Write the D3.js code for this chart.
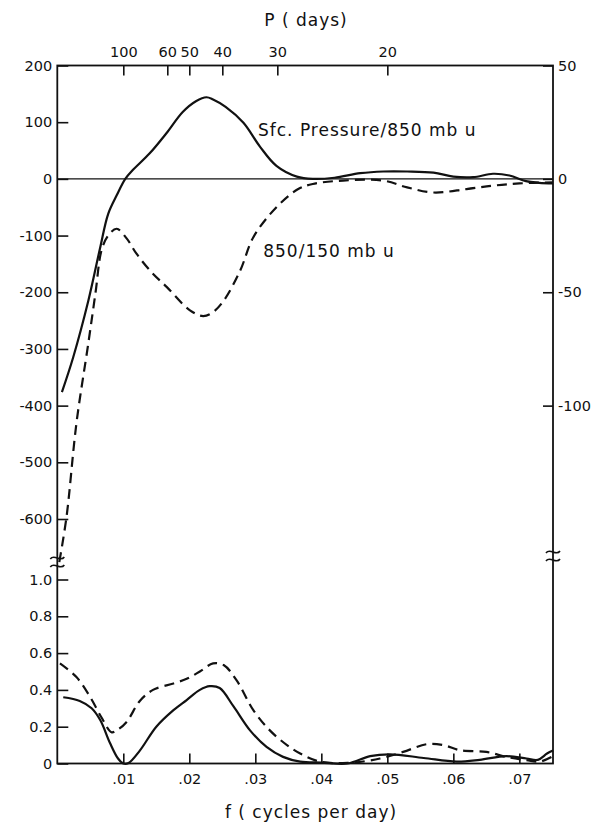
<!DOCTYPE html>
<html>
<head>
<meta charset="utf-8">
<script src="https://d3js.org/d3.v7.min.js"></script>
<style>
  body { margin: 0; background: #fff; }
  text { font-family: "DejaVu Sans", sans-serif; fill: #111; }
</style>
</head>
<body>
<div class="root"></div>
<script>
// frequency in cycles per day
const sfcFreq = [.0007, .0024, .0047, .0065, .0077, .009, .0103, .0114, .014, .0165, .019, .021, .0226, .0236, .0255, .0282, .0307, .0332, .0363, .0387, .042, .0459, .0494, .053, .057, .06, .063, .066, .0685, .071, .073, .0751]
const sfcCoh = [-376, -315, -215, -121, -62, -29, 0, 15, 45, 80, 118, 137, 144, 140, 127, 99, 57, 23, 4, 0, 2, 10, 13, 13, 11, 4, 3, 9, 6, -4, -7, -8]

const uFreq = [.0003, .0014, .0029, .0047, .0058, .0067, .0077, .009, .0105, .012, .0143, .0166, .0201, .0221, .0236, .0252, .0277, .0297, .0332, .0365, .0387, .0433, .0494, .053, .057, .062, .066, .070, .0751]
const uCoh = [-676, -596, -431, -290, -200, -126, -100, -88, -105, -132, -165, -191, -232, -242, -235, -215, -162, -103, -50, -18, -9, -3, -3, -15, -24, -18, -12, -8, -6]

const sfcLowFreq = [.0009, .0034, .0052, .0065, .008, .0092, .01, .0108, .0125, .015, .0176, .0196, .0216, .0231, .0246, .0267, .0292, .0317, .0342, .0368, .04, .044, .0474, .0504, .0555, .0605, .064, .068, .0711, .0728, .0742, .0751]
const sfcLow = [.36, .34, .30, .236, .11, .027, 0, .003, .07, .2, .29, .345, .40, .42, .41, .31, .18, .09, .036, .01, .005, 0, .04, .05, .03, .01, .02, .04, .027, .02, .054, .07]

const uLowFreq = [.0004, .0029, .005, .0067, .0082, .009, .0105, .0125, .0145, .0176, .0196, .0216, .0236, .0252, .0272, .0297, .0322, .0348, .0368, .0398, .044, .0489, .0524, .056, .0585, .061, .065, .068, .0711, .0731, .0751]
const uLow = [.544, .47, .36, .25, .17, .18, .226, .34, .40, .435, .46, .50, .544, .535, .45, .29, .18, .10, .054, .01, .003, .027, .063, .105, .10, .072, .063, .036, .018, .01, .04]

const periodTicks = [100, 60, 50, 40, 30, 20]
const freqTicks = [.01, .02, .03, .04, .05, .06, .07]
const leftTicks = [200, 100, 0, -100, -200, -300, -400, -500, -600]
const rightTicks = [50, 0, -50, -100]
const lowTicks = [0, .2, .4, .6, .8, 1.0]

const svgWidth = 592
    , svgHeight = 823
    , margin = { top: 65.5, bottom: 59.5, left: 57.3, right: 39 }
    , plotRight = svgWidth - margin.right
    , plotBottom = svgHeight - margin.bottom

const svg = d3.select('.root')
              .append('svg')
              .attr('width', svgWidth)
              .attr('height', svgHeight)

const x = d3.scaleLinear()
            .domain([0, 0.0751])
            .range([margin.left, plotRight])

// upper panel: left scale, right scale is a quarter of it
const yTop = d3.scaleLinear()
               .domain([-600, 200])
               .range([519, margin.top])
const yRight = d3.scaleLinear()
                 .domain([-100, 50])
                 .range([yTop(-400), yTop(200)])
const yLow = d3.scaleLinear()
               .domain([0, 1])
               .range([plotBottom, 579.5])

const fontSize = 14.5

// frame
svg.append('rect')
   .attr('x', margin.left)
   .attr('y', margin.top)
   .attr('width', plotRight - margin.left)
   .attr('height', plotBottom - margin.top)
   .attr('fill', 'none')
   .attr('stroke', '#111')
   .attr('stroke-width', 1.8)

// zero line of the upper panel
svg.append('line')
   .attr('x1', margin.left).attr('x2', plotRight)
   .attr('y1', yTop(0)).attr('y2', yTop(0))
   .attr('stroke', '#111')
   .attr('stroke-width', 1.3)

function styleAxis (g) {
  g.select('.domain').remove()
  g.selectAll('.tick line').attr('stroke', '#111').attr('stroke-width', 1.6)
  g.selectAll('.tick text').attr('font-size', fontSize).attr('font-family', '"DejaVu Sans", sans-serif').attr('fill', '#111')
}

svg.append('g')
   .attr('transform', `translate(${margin.left},0)`)
   .call(d3.axisLeft(yTop).tickValues(leftTicks).tickFormat(d => String(d))
           .tickSizeInner(-11).tickSizeOuter(0).tickPadding(5))
   .call(styleAxis)

svg.append('g')
   .attr('transform', `translate(${margin.left},0)`)
   .call(d3.axisLeft(yLow).tickValues(lowTicks).tickFormat(d => d === 0 ? '0' : d.toFixed(1))
           .tickSizeInner(-11).tickSizeOuter(0).tickPadding(5))
   .call(styleAxis)

svg.append('g')
   .attr('transform', `translate(${plotRight},0)`)
   .call(d3.axisRight(yRight).tickValues(rightTicks).tickFormat(d => String(d))
           .tickSizeInner(-10).tickSizeOuter(0).tickPadding(5))
   .call(styleAxis)

svg.append('g')
   .attr('transform', `translate(0,${plotBottom})`)
   .call(d3.axisBottom(x).tickValues(freqTicks).tickFormat(d => d.toFixed(2).replace(/^0/, ''))
           .tickSizeInner(-10).tickSizeOuter(0).tickPadding(10))
   .call(styleAxis)

svg.append('g')
   .attr('transform', `translate(0,${margin.top})`)
   .call(d3.axisTop(x).tickValues(periodTicks.map(p => 1 / p)).tickFormat((d, i) => String(periodTicks[i]))
           .tickSizeInner(-10).tickSizeOuter(0).tickPadding(9))
   .call(styleAxis)

// axis titles
svg.append('text')
   .attr('x', 306).attr('y', 26)
   .attr('text-anchor', 'middle')
   .attr('font-size', 17)
   .attr('letter-spacing', 1)
   .text('P ( days)')

svg.append('text')
   .attr('x', 311).attr('y', 818)
   .attr('text-anchor', 'middle')
   .attr('font-size', 17)
   .attr('letter-spacing', 1)
   .text('f ( cycles per day)')

// axis break marks
const breaks = [[margin.left, 562], [plotRight, 556]]
breaks.forEach(([bx, by]) => {
  [-4, 4].forEach(off => {
    svg.append('path')
       .attr('d', `M${bx - 7},${by + off + 1} C${bx - 3},${by + off - 5} ${bx + 3},${by + off + 5} ${bx + 7},${by + off - 1}`)
       .attr('fill', 'none')
       .attr('stroke', '#111')
       .attr('stroke-width', 1.6)
  })
})

const lineTop = d3.line()
                  .x(d => x(d[0]))
                  .y(d => yTop(d[1]))
                  .curve(d3.curveCatmullRom.alpha(0.5))
const lineLow = d3.line()
                  .x(d => x(d[0]))
                  .y(d => yLow(d[1]))
                  .curve(d3.curveCatmullRom.alpha(0.5))

const series = [
  { line: lineTop, f: sfcFreq, v: sfcCoh, dash: null },
  { line: lineTop, f: uFreq, v: uCoh, dash: '10,6' },
  { line: lineLow, f: sfcLowFreq, v: sfcLow, dash: null },
  { line: lineLow, f: uLowFreq, v: uLow, dash: '10,6' }
]

series.forEach(s => {
  svg.append('path')
     .datum(s.f.map((f, i) => [f, s.v[i]]))
     .attr('d', s.line)
     .attr('fill', 'none')
     .attr('stroke', '#111')
     .attr('stroke-width', 2.2)
     .attr('stroke-dasharray', s.dash)
})

// curve labels
svg.append('text')
   .attr('x', x(0.0304)).attr('y', yTop(75))
   .attr('font-size', 17)
   .attr('letter-spacing', 1)
   .text('Sfc. Pressure/850 mb u')

svg.append('text')
   .attr('x', x(0.0312)).attr('y', yTop(-138))
   .attr('font-size', 17)
   .attr('letter-spacing', 1)
   .text('850/150 mb u')
</script>
</body>
</html>
